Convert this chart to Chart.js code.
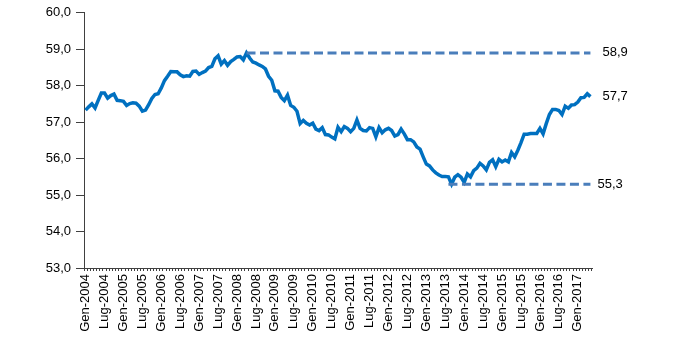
<!DOCTYPE html>
<html>
<head>
<meta charset="utf-8">
<script src="https://cdn.jsdelivr.net/npm/chart.js@4/dist/chart.umd.min.js"></script>
<style>
  html, body { margin: 0; padding: 0; background: #fff; }
  #wrap { width: 700px; height: 339px; }
</style>
</head>
<body>
<div id="wrap"><canvas id="employmentChart" width="700" height="339"></canvas></div>
<script>
// monthly series, Jan 2004 - May 2017
const monthNames = ['Gen', 'Feb', 'Mar', 'Apr', 'Mag', 'Giu', 'Lug', 'Ago', 'Set', 'Ott', 'Nov', 'Dic'];
const startYear = 2004;
const rate = [
    57.33, 57.42, 57.5, 57.39, 57.6, 57.8, 57.8, 57.66, 57.73, 57.77,
    57.6, 57.59, 57.57, 57.46, 57.51, 57.53, 57.52, 57.44, 57.3, 57.33,
    57.48, 57.65, 57.76, 57.78, 57.94, 58.14, 58.26, 58.39, 58.38, 58.38,
    58.3, 58.25, 58.27, 58.26, 58.39, 58.4, 58.31, 58.36, 58.4, 58.5,
    58.53, 58.74, 58.82, 58.59, 58.69, 58.56, 58.66, 58.72, 58.79, 58.8,
    58.71, 58.9, 58.76, 58.65,
    58.62, 58.57, 58.53, 58.46, 58.26, 58.15, 57.86, 57.85, 57.68, 57.59,
    57.74, 57.46, 57.41, 57.3, 56.96, 57.05, 56.97, 56.92, 56.97, 56.81,
    56.77, 56.85, 56.66, 56.65, 56.59, 56.54, 56.86, 56.74, 56.88, 56.83,
    56.74, 56.83, 57.06, 56.83, 56.77, 56.76, 56.85, 56.83, 56.6, 56.85,
    56.71, 56.79, 56.83, 56.77, 56.62, 56.66, 56.81, 56.68, 56.52, 56.52,
    56.46, 56.32, 56.26,
    56.05, 55.85, 55.8, 55.69, 55.61, 55.55, 55.51, 55.51, 55.5, 55.3,
    55.49, 55.56, 55.49, 55.35, 55.58, 55.5, 55.67, 55.74, 55.87, 55.8,
    55.69, 55.9, 55.97, 55.78, 55.98, 55.91, 55.96, 55.91, 56.17, 56.05,
    56.23, 56.44, 56.67, 56.67, 56.69, 56.69, 56.69, 56.83, 56.68, 56.96,
    57.21, 57.35, 57.35, 57.32, 57.21, 57.44, 57.38, 57.47, 57.48, 57.55,
    57.67, 57.68, 57.78, 57.7
];

// reference levels: pre-crisis peak and trough
const peakValue = 58.9;
const peakFrom = 51;   // Apr 2008
const troughValue = 55.3;
const troughFrom = 115; // Ago 2013

const yTicks = [53, 54, 55, 56, 57, 58, 59, 60];

const labels = rate.map((v, i) => monthNames[i % 12] + '-' + (startYear + Math.floor(i / 12)));
const peakLine = rate.map((v, i) => i >= peakFrom ? peakValue : null);
const troughLine = rate.map((v, i) => i >= troughFrom ? troughValue : null);

const fmt = v => v.toFixed(1).replace('.', ',');
const FONT = "'Liberation Sans', Arial, sans-serif";

// value labels to the right of the last point
const endLabels = {
    id: 'endLabels',
    afterDatasetsDraw(chart) {
        const { ctx, scales: { x, y } } = chart;
        const lastX = x.getPixelForValue(rate.length - 1);
        const items = [
            { v: peakValue, dx: 12 },
            { v: rate[rate.length - 1], dx: 12 },
            { v: troughValue, dx: 7 }
        ];
        ctx.save();
        ctx.font = '13px ' + FONT;
        ctx.fillStyle = '#000';
        ctx.textAlign = 'left';
        ctx.textBaseline = 'middle';
        items.forEach(it => ctx.fillText(fmt(it.v), lastX + it.dx, y.getPixelForValue(it.v)));
        ctx.restore();
    }
};

const ctx = document.getElementById('employmentChart').getContext('2d');
new Chart(ctx, {
    type: 'line',
    data: {
        labels: labels,
        datasets: [
            {
                data: peakLine,
                borderColor: '#4a7ebb',
                borderWidth: 3,
                borderDash: [9, 4.5],
                pointRadius: 0,
                spanGaps: false
            },
            {
                data: troughLine,
                borderColor: '#4a7ebb',
                borderWidth: 3,
                borderDash: [9, 4.5],
                pointRadius: 0,
                spanGaps: false
            },
            {
                data: rate,
                borderColor: '#0070c0',
                borderWidth: 3.5,
                pointRadius: 0,
                tension: 0
            }
        ]
    },
    options: {
        responsive: false,
        animation: false,
        layout: { padding: { top: 11, right: 108, bottom: 0, left: 0 } },
        plugins: { legend: { display: false }, tooltip: { enabled: false } },
        scales: {
            x: {
                type: 'category',
                offset: true,
                grid: { offset: true, drawOnChartArea: false, tickLength: 3, color: '#404040' },
                border: { color: '#404040', width: 1 },
                ticks: {
                    autoSkip: false,
                    maxRotation: 90,
                    minRotation: 90,
                    padding: 3,
                    color: '#000',
                    font: { family: FONT, size: 13 },
                    callback: (val, i) => (i % 6 === 0 ? labels[i] : '')
                },
                afterFit: s => { s.height = 71; }
            },
            y: {
                min: 53,
                max: 60,
                afterBuildTicks: s => { s.ticks = yTicks.map(v => ({ value: v })); },
                grid: { drawOnChartArea: false, tickLength: 8, color: '#404040' },
                border: { color: '#404040', width: 1 },
                ticks: {
                    padding: 5,
                    color: '#000',
                    font: { family: FONT, size: 13 },
                    callback: v => fmt(v)
                },
                afterFit: s => { s.width = 84; }
            }
        }
    },
    plugins: [endLabels]
});
</script>
</body>
</html>
